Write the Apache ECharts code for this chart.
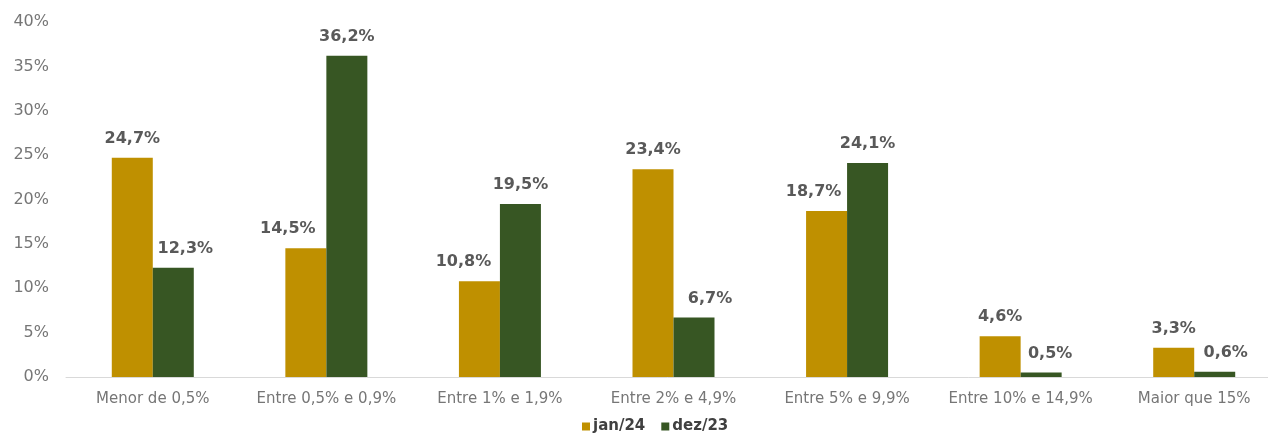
<!DOCTYPE html>
<html>
<head>
<meta charset="utf-8">
<script src="https://cdn.jsdelivr.net/npm/echarts@6/dist/echarts.min.js"></script>
<style>
  html, body { margin: 0; padding: 0; background: #fff; }
  #chart { width: 1268px; height: 439px; }
</style>
</head>
<body>
<div id="chart"></div>
<script>
// faixas de variação
const categories = ['Menor de 0,5%', 'Entre 0,5% e 0,9%', 'Entre 1% e 1,9%', 'Entre 2% e 4,9%', 'Entre 5% e 9,9%', 'Entre 10% e 14,9%', 'Maior que 15%'];
const jan24 = [24.7, 14.5, 10.8, 23.4, 18.7, 4.6, 3.3];
const dez23 = [12.3, 36.2, 19.5, 6.7, 24.1, 0.5, 0.6];
const seriesNames = ['jan/24', 'dez/23'];
// deslocamento horizontal dos rótulos (px), como no original
const janShift = [0, -18, -16, 0, -13, 0, 0];
const dezShift = [12, 0, 0, 16, 0, 9, 11];

const fontFam = '"DejaVu Sans", sans-serif';
const fmt = v => v.toFixed(1).replace('.', ',') + '%';

const labelStyle = {
  show: true,
  position: 'top',
  distance: 11,
  color: '#595959',
  fontWeight: 'bold',
  fontSize: 16,
  fontFamily: fontFam,
  formatter: p => fmt(p.value)
};

const withShift = (vals, shifts) => vals.map((v, i) => ({
  value: v,
  label: { offset: [shifts[i], 0] }
}));

const chart = echarts.init(document.getElementById('chart'));
chart.setOption({
  animation: false,
  grid: { left: 66, width: 1215, top: 22, bottom: 62, containLabel: false, outerBoundsMode: 'none' },
  legend: {
    bottom: 0,
    left: 577,
    itemWidth: 8,
    itemHeight: 8,
    itemGap: 16,
    icon: 'rect',
    textStyle: { color: '#404040', fontWeight: 'bold', fontSize: 15, fontFamily: fontFam, padding: [0, 0, 0, -2] },
    data: seriesNames
  },
  xAxis: {
    type: 'category',
    data: categories,
    axisLine: { lineStyle: { color: '#d9d9d9', width: 1 } },
    axisTick: { show: false },
    axisLabel: { interval: 0, color: '#767676', fontSize: 15, fontFamily: fontFam, margin: 15 }
  },
  yAxis: {
    type: 'value',
    min: 0,
    max: 40,
    interval: 5,
    splitLine: { show: false },
    axisLine: { show: false },
    axisTick: { show: false },
    axisLabel: { color: '#767676', fontSize: 16, fontFamily: fontFam, margin: 17, formatter: v => v + '%' }
  },
  series: [
    {
      name: seriesNames[0],
      type: 'bar',
      data: withShift(jan24, janShift),
      barWidth: 41,
      barGap: '0%',
      itemStyle: { color: '#BF9000' },
      label: labelStyle
    },
    {
      name: seriesNames[1],
      type: 'bar',
      data: withShift(dez23, dezShift),
      barWidth: 41,
      barGap: '0%',
      itemStyle: { color: '#375623' },
      label: labelStyle
    }
  ]
});
</script>
</body>
</html>
